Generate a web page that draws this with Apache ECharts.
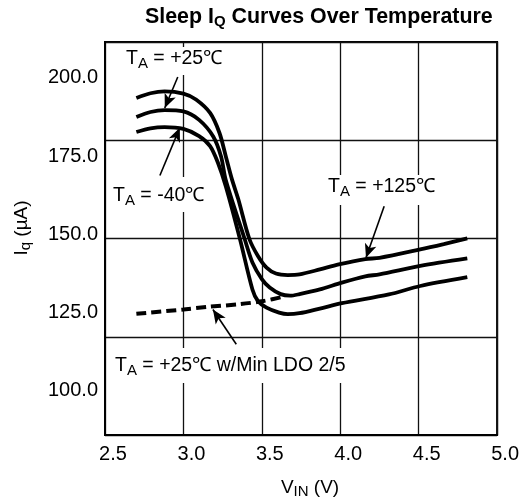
<!DOCTYPE html>
<html><head><meta charset="utf-8">
<script src="https://cdn.jsdelivr.net/npm/echarts@6/dist/echarts.min.js"></script>
<style>html,body{margin:0;padding:0;background:#fff}#c{width:522px;height:504px}</style>
</head><body><div id="c"></div>
<script>
// ---- data ----
const xTicks = [2.5, 3.0, 3.5, 4.0, 4.5, 5.0];
const yTickLabels = [100, 125, 150, 175, 200];

// T_A = +125 C (top curve)
const vinHot = [2.70, 2.79, 2.88, 3.00, 3.08, 3.17, 3.23, 3.27, 3.31, 3.35, 3.42, 3.475, 3.53, 3.59, 3.665, 3.74, 3.87, 3.99, 4.16, 4.25, 4.51, 4.66, 4.81];
const iqHot  = [193.6, 195.1, 195.7, 195.0, 193.1, 188.8, 182.4, 175.0, 167.5, 161.2, 148.6, 143.1, 139.4, 137.5, 137.0, 137.2, 138.8, 140.4, 142.1, 142.5, 145.2, 146.9, 148.7];

// T_A = +25 C (middle curve)
const vinRoom = [2.70, 2.79, 2.88, 3.00, 3.10, 3.19, 3.24, 3.27, 3.39, 3.44, 3.50, 3.55, 3.62, 3.68, 3.74, 3.87, 4.01, 4.16, 4.25, 4.51, 4.81];
const iqRoom  = [187.5, 189.1, 189.7, 189.3, 186.6, 181.3, 174.9, 167.4, 148.6, 141.0, 135.7, 133.0, 130.9, 130.4, 130.9, 132.4, 134.6, 136.6, 137.2, 139.9, 142.3];

// T_A = -40 C (bottom curve)
const vinCold = [2.70, 2.79, 2.88, 3.00, 3.10, 3.17, 3.22, 3.27, 3.36, 3.44, 3.475, 3.53, 3.61, 3.665, 3.74, 3.87, 4.01, 4.31, 4.51, 4.81];
const iqCold  = [182.7, 183.9, 184.3, 183.7, 181.4, 178.2, 172.9, 165.4, 148.6, 132.4, 128.7, 126.6, 125.0, 124.5, 124.8, 126.3, 128.0, 130.8, 133.5, 136.3];

// T_A = +25 C w/ Min LDO 2/5 (dotted)
const vinLdo = [2.70, 3.00, 3.15, 3.36, 3.51, 3.64];
const iqLdo  = [124.6, 126.0, 126.8, 127.7, 128.7, 130.1];

// annotation arrows: [fromVin, fromIq, toVin, toIq]
const arrowRoom = [2.964, 200.3, 2.881, 190.4];
const arrowCold = [2.850, 168.8, 2.977, 184.1];
const arrowHot  = [4.280, 159.0, 4.164, 142.5];
const arrowLdo  = [3.337, 114.9, 3.188, 126.0];

// ---- chart ----
const FONT = '"Liberation Sans", Arial, sans-serif';
const pairs = (xs, ys) => xs.map((x, i) => [x, ys[i]]);
const arrowLine = a => [{coord: [a[0], a[1]]}, {coord: [a[2], a[3]]}];

const annRich = {
  t: {fontSize: 19.5, lineHeight: 24, fontFamily: FONT, color: '#000'},
  s: {fontSize: 15, lineHeight: 16, verticalAlign: 'bottom', fontFamily: FONT, color: '#000'}
};
function ann(text, left, top, padding) {
  return {type: 'text', left: left, top: top, z: 100,
    style: {text: text, rich: annRich, backgroundColor: '#fff', padding: padding}};
}

const chart = echarts.init(document.getElementById('c'), null, {renderer: 'canvas'});
const curveStyle = {color: '#000', width: 3.8};

chart.setOption({
  animation: false,
  backgroundColor: '#fff',
  textStyle: {fontFamily: FONT, color: '#000'},
  title: {
    text: '{t|Sleep I}{s|Q}{t| Curves Over Temperature}',
    left: 145, top: 5, padding: 0,
    textStyle: {rich: {
      t: {fontSize: 21.4, fontWeight: 'bold', lineHeight: 24, fontFamily: FONT, color: '#000'},
      s: {fontSize: 15, fontWeight: 'bold', lineHeight: 10, verticalAlign: 'bottom', fontFamily: FONT, color: '#000'}
    }}
  },
  grid: {left: 105, right: 23.5, top: 42, bottom: 68, show: true, borderColor: '#000', borderWidth: 2},
  xAxis: {
    type: 'value', min: xTicks[0], max: xTicks[xTicks.length - 1], interval: 0.5,
    axisLine: {show: true, lineStyle: {color: '#000', width: 2}},
    axisTick: {show: false},
    axisLabel: {fontSize: 20, color: '#000', margin: 9, fontFamily: FONT, padding: [0, 0, 0, 16],
      formatter: v => v.toFixed(1)},
    splitLine: {show: true, lineStyle: {color: '#111', width: 1.3}},
    name: '{t|V}{s|IN}{t| (V)}', nameLocation: 'middle', nameGap: 42,
    nameTextStyle: {padding: [0, 0, 0, 18], rich: {
      t: {fontSize: 19, lineHeight: 22, fontFamily: FONT, color: '#000'},
      s: {fontSize: 15, lineHeight: 12, verticalAlign: 'bottom', fontFamily: FONT, color: '#000'}
    }}
  },
  yAxis: [{
    type: 'value', min: 85.88, max: 211.48,
    axisLine: {show: true, lineStyle: {color: '#000', width: 2}},
    axisTick: {show: false},
    splitLine: {show: false},
    axisLabel: {customValues: yTickLabels, fontSize: 20, color: '#000', margin: 7, fontFamily: FONT,
      formatter: v => Number(v).toFixed(1)},
    name: '{t|I}{s|q}{t| (µA)}', nameLocation: 'middle', nameGap: 72, nameRotate: 90,
    nameTextStyle: {padding: [0, 0, 0, 21], rich: {
      t: {fontSize: 19, lineHeight: 22, fontFamily: FONT, color: '#000'},
      s: {fontSize: 15, lineHeight: 12, verticalAlign: 'bottom', fontFamily: FONT, color: '#000'}
    }}
  }, {
    type: 'value', min: 0, max: 4, interval: 1, position: 'left',
    axisLine: {show: false}, axisTick: {show: false}, axisLabel: {show: false},
    splitLine: {show: true, lineStyle: {color: '#111', width: 1.3}}
  }],
  series: [
    {name: 'TA = +125℃', type: 'line', data: pairs(vinHot, iqHot), smooth: 0.3, showSymbol: false, lineStyle: curveStyle, z: 3},
    {name: 'TA = +25℃', type: 'line', data: pairs(vinRoom, iqRoom), smooth: 0.3, showSymbol: false, lineStyle: curveStyle, z: 3},
    {name: 'TA = -40℃', type: 'line', data: pairs(vinCold, iqCold), smooth: 0.3, showSymbol: false, lineStyle: curveStyle, z: 3},
    {name: 'TA = +25℃ w/Min LDO 2/5', type: 'line', data: pairs(vinLdo, iqLdo), smooth: 0.3, showSymbol: false,
      lineStyle: {color: '#000', width: 4, type: [10, 5]}, z: 3,
      markLine: {
        silent: true, symbol: ['none', 'arrow'], symbolSize: [9, 14],
        label: {show: false},
        lineStyle: {color: '#000', width: 1.6, type: 'solid'},
        emphasis: {disabled: true},
        data: [arrowLine(arrowRoom), arrowLine(arrowCold), arrowLine(arrowHot), arrowLine(arrowLdo)]
      }}
  ],
  graphic: [
    ann('{t|T}{s|A}{t| = +25℃}', 123, 47, [0, 3, 4, 3]),
    ann('{t|T}{s|A}{t| = -40℃}', 110, 177, [7, 3, 4, 3]),
    ann('{t|T}{s|A}{t| = +125℃}', 325, 175, [0, 3, 6, 3]),
    ann('{t|T}{s|A}{t| = +25℃ w/Min LDO 2/5}', 112, 348, [6, 3, 5, 3])
  ]
});
</script>
</body></html>
